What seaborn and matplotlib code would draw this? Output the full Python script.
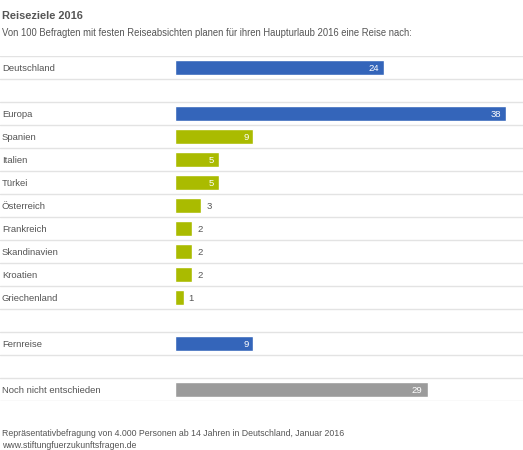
import matplotlib
matplotlib.use('Agg')
import matplotlib.pyplot as plt
import seaborn as sns
import pandas as pd

# data
categories = ["Deutschland", "Europa", "Spanien", "Italien", "Türkei", "Österreich",
              "Frankreich", "Skandinavien", "Kroatien", "Griechenland", "Fernreise",
              "Noch nicht entschieden"]
values = [24, 38, 9, 5, 5, 3, 2, 2, 2, 1, 9, 29]
groups = ["Hauptziel", "Hauptziel", "Land", "Land", "Land", "Land", "Land", "Land",
          "Land", "Land", "Hauptziel", "Offen"]

title = "Reiseziele 2016"
subtitle = "Von 100 Befragten mit festen Reiseabsichten planen für ihren Haupturlaub 2016 eine Reise nach:"
source = ["Repräsentativbefragung von 4.000 Personen ab 14 Jahren in Deutschland, Januar 2016",
          "www.stiftungfuerzukunftsfragen.de"]

palette = {"Hauptziel": "#3465BA", "Land": "#AABB00", "Offen": "#9B9B9B"}
text_col = "#555555"

df = pd.DataFrame({"category": categories, "value": values, "group": groups})

# blank spacer rows after Deutschland, Griechenland and Fernreise
order = []
blank = 0
for c in categories:
    order.append(c)
    if c in ("Deutschland", "Griechenland", "Fernreise"):
        blank += 1
        order.append(" " * blank)

sns.set_style("white")
plt.rcParams['font.family'] = ['Liberation Sans', 'DejaVu Sans']

W, H = 523, 450
fig = plt.figure(figsize=(W / 100, H / 100), dpi=100)
ax = fig.add_axes([0, 1 - 401 / H, 1, 345 / H])

sns.barplot(data=df, x="value", y="category", hue="group", order=order,
            palette=palette, dodge=False, width=0.69, legend=False,
            saturation=1, ax=ax)

px = 331 / 38  # pixels per unit
ax.set_xlim(-175 / px, (W - 175) / px)
ax.set_ylim(len(order) - 0.5, -0.5)
for s in ax.spines.values():
    s.set_visible(False)
ax.set_xticks([])
ax.set_yticks([])
ax.set_xlabel("")
ax.set_ylabel("")

for i in range(len(order) + 1):
    ax.axhline(i - 0.5, color="#E3E3E3", lw=1, zorder=0)

pad = 5 / px
for i, c in enumerate(order):
    if c.strip() == "":
        continue
    v = df.loc[df.category == c, "value"].iloc[0]
    ax.text(2 / W, i, c, transform=ax.get_yaxis_transform(), ha="left",
            va="center_baseline", fontsize=6.8, color=text_col)
    if v >= 5:
        ax.text(v - pad, i, str(v), ha="right", va="center_baseline", fontsize=6.8,
                color="white")
    else:
        ax.text(v + pad, i, str(v), ha="left", va="center_baseline", fontsize=6.8,
                color=text_col)

fig.text(2 / W, 1 - 15 / H, title, ha="left", va="center_baseline", fontsize=7.9,
         fontweight="bold", color=text_col)
fig.text(2 / W, 1 - 32 / H, subtitle, ha="left", va="center_baseline", fontsize=6.85,
         color=text_col)
fig.text(2 / W, 1 - 432 / H, source[0], ha="left", va="center_baseline", fontsize=6.3,
         color=text_col)
fig.text(2 / W, 1 - 444 / H, source[1], ha="left", va="center_baseline", fontsize=6.3,
         color=text_col)

fig.savefig("out.png", dpi=100)
